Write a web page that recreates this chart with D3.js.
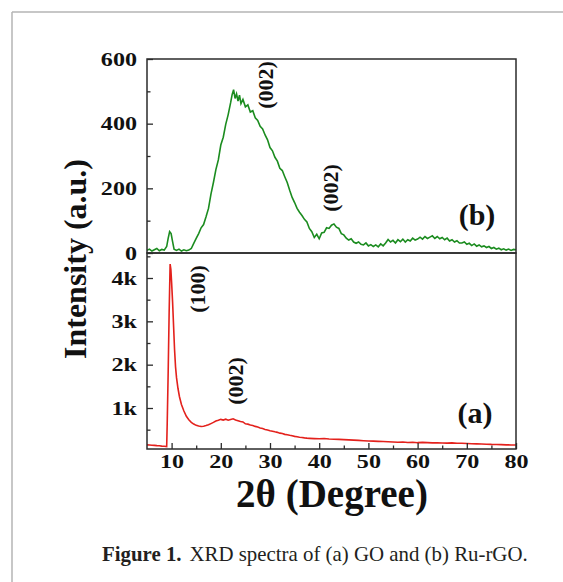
<!DOCTYPE html>
<html><head><meta charset="utf-8">
<script src="https://cdn.jsdelivr.net/npm/d3@7"></script>
<style>html,body{margin:0;padding:0;background:#fff;}</style>
</head><body>
<svg id="chart" width="563" height="582"></svg>
<script>
// ---- data ----
// (b) Ru-rGO : [2theta, intensity]
const ruRGO = [
[5,8],[5.5,12],[6,6],[6.5,10],[7,14],[7.5,7],[8,11],[8.5,9],[9,20],[9.3,45],[9.6,66],[9.9,60],[10.2,35],[10.5,12],
[11,8],[11.5,12],[12,6],[12.5,10],[13,7],[13.5,9],[14,14],[14.5,30],[15,45],[15.5,60],[16,78],[16.5,88],[17,112],
[17.5,138],[18,182],[18.5,218],[19,258],[19.5,288],[20,334],[20.5,358],[21,398],[21.5,428],[22,465],[22.3,490],[22.6,505],
[22.9,478],[23.2,492],[23.5,470],[23.8,488],[24.1,462],[24.5,475],[25,452],[25.5,458],[26,436],[26.5,440],[27,418],[27.5,410],
[28,392],[28.5,384],[29,365],[29.5,350],[30,326],[30.5,316],[31,296],[31.5,284],[32,262],[32.5,255],[33,236],[33.5,218],
[34,194],[34.5,172],[35,156],[35.5,138],[36,126],[36.5,116],[37,104],[37.5,96],[38,76],[38.5,66],[39,48],[39.5,58],
[40,44],[40.5,62],[41,64],[41.5,78],[42,76],[42.5,86],[43,90],[43.5,80],[44,76],[44.5,60],[45,56],[45.5,46],[46,40],
[46.5,44],[47,34],[47.5,30],[48,34],[48.5,27],[49,25],[49.5,31],[50,22],[50.5,26],[51,20],[51.5,25],[52,19],[52.5,28],
[53,22],[53.5,31],[54,42],[54.5,34],[55,39],[55.5,31],[56,41],[56.5,35],[57,43],[57.5,34],[58,41],[58.5,37],[59,46],
[59.5,40],[60,43],[60.5,49],[61,43],[61.5,51],[62,45],[62.5,49],[63,53],[63.5,45],[64,51],[64.5,44],[65,48],[65.5,41],
[66,46],[66.5,37],[67,41],[67.5,34],[68,38],[68.5,31],[69,31],[69.5,34],[70,27],[70.5,30],[71,23],[71.5,28],[72,21],
[72.5,25],[73,19],[73.5,22],[74,17],[74.5,20],[75,14],[75.5,17],[76,12],[76.5,15],[77,10],[77.5,13],[78,9],[78.5,12],
[79,8],[79.5,11],[80,10]
];
// (a) GO : [2theta, intensity]
const gO = [
[5,150],[5.5,146],[6,140],[6.5,138],[7,131],[7.5,128],[8,121],[8.5,116],[9,110],[9.1,600],[9.3,1800],[9.5,3200],
[9.7,4320],[9.85,4200],[10,3900],[10.2,3450],[10.4,2900],[10.6,2350],[10.8,1950],[11,1700],[11.3,1450],[11.6,1260],
[12,1080],[12.5,930],[13,810],[13.5,730],[14,670],[14.5,630],[15,600],[15.5,585],[16,575],[16.5,580],[17,595],[17.5,612],
[18,640],[18.5,668],[19,700],[19.5,718],[20,738],[20.5,722],[21,742],[21.5,718],[22,736],[22.5,752],[23,722],[23.5,708],
[24,690],[24.5,678],[25,635],[25.5,628],[26,608],[26.5,598],[27,576],[27.5,560],[28,540],[28.5,526],[29,506],[29.5,494],
[30,476],[30.5,464],[31,450],[31.5,438],[32,420],[32.5,410],[33,392],[33.5,384],[34,370],[34.5,358],[35,346],[35.5,338],
[36,326],[36.5,320],[37,310],[37.5,304],[38,300],[39,294],[40,290],[41,296],[42,284],[43,280],[44,276],[45,270],[46,264],
[47,258],[48,254],[49,246],[50,240],[51,236],[52,230],[53,226],[54,220],[55,214],[56,210],[57,216],[58,205],[59,209],
[60,200],[61,206],[62,200],[63,195],[64,199],[65,194],[66,190],[67,196],[68,188],[69,185],[70,180],[71,176],[72,172],
[73,168],[74,165],[75,160],[76,158],[77,155],[78,150],[79,148],[80,145]
];
const xTicks = [10,20,30,40,50,60,70,80];
const xMinorTicks = [15,25,35,45,55,65,75];
const topTicks = [0,200,400,600];
const topMinorTicks = [100,300,500];
const botTicks = [1000,2000,3000,4000];
const botMinorTicks = [500,1500,2500,3500,4500];
const annotations = [
  {text:"(002)", x:265, y:85},
  {text:"(002)", x:330, y:188},
  {text:"(100)", x:197, y:289},
  {text:"(002)", x:235, y:381}
];

// ---- layout ----
const svg = d3.select("#chart");
const L = 147, R = 516, T = 59, M = 253, B = 449;
const x = d3.scaleLinear().domain([5,80]).range([L,R]);
const yTop = d3.scaleLinear().domain([0,600]).range([M,T]);
const yBot = d3.scaleLinear().domain([54,4577]).range([B,M]);

// page frame
svg.append("line").attr("x1",12).attr("y1",12).attr("x2",563).attr("y2",12).attr("stroke","#b4b4b4").attr("stroke-width",1.5);
svg.append("line").attr("x1",12).attr("y1",12).attr("x2",12).attr("y2",582).attr("stroke","#b4b4b4").attr("stroke-width",1.5);

const defs = svg.append("defs");
defs.append("clipPath").attr("id","cTop").append("rect").attr("x",L).attr("y",T).attr("width",R-L).attr("height",M-T);
defs.append("clipPath").attr("id","cBot").append("rect").attr("x",L).attr("y",M).attr("width",R-L).attr("height",B-M);

const lineTop = d3.line().x(d=>x(d[0])).y(d=>yTop(d[1]));
const lineBot = d3.line().x(d=>x(d[0])).y(d=>yBot(d[1]));
svg.append("path").datum(ruRGO).attr("d",lineTop).attr("fill","none").attr("stroke","#1b8c1f").attr("stroke-width",1.6).attr("clip-path","url(#cTop)");
svg.append("path").datum(gO).attr("d",lineBot).attr("fill","none").attr("stroke","#e3211c").attr("stroke-width",1.6).attr("clip-path","url(#cBot)");

const frameColor = "#2b2b2b";
const serif = "'Liberation Serif','Times New Roman',serif";
function styleTicks(g){
  g.selectAll(".domain").remove();
  g.selectAll("line").attr("stroke",frameColor).attr("stroke-width",1.3);
  g.selectAll("text").attr("font-family",serif)
    .attr("font-weight","bold").attr("font-size",19).attr("fill","#111");
}
function stretch(g){
  g.selectAll("text").each(function(){
    const t = d3.select(this);
    const tx = +t.attr("x") || 0;
    t.attr("transform",`translate(${tx},0) scale(1.27,1) translate(${-tx},0)`);
  });
}
// x axis (bottom)
const gx = svg.append("g").attr("transform",`translate(0,${B})`)
  .call(d3.axisBottom(x).tickValues(xTicks).tickSize(-6).tickPadding(6).tickFormat(d3.format("d")));
styleTicks(gx); stretch(gx);
const gxm = svg.append("g").attr("transform",`translate(0,${B})`)
  .call(d3.axisBottom(x).tickValues(xMinorTicks).tickSize(-3.5).tickFormat(""));
styleTicks(gxm);
// y axes
const gyt = svg.append("g").attr("transform",`translate(${L},0)`)
  .call(d3.axisLeft(yTop).tickValues(topTicks).tickSize(-6).tickPadding(10).tickFormat(d3.format("d")));
styleTicks(gyt); stretch(gyt);
const gytm = svg.append("g").attr("transform",`translate(${L},0)`)
  .call(d3.axisLeft(yTop).tickValues(topMinorTicks).tickSize(-3.5).tickFormat(""));
styleTicks(gytm);
const gyb = svg.append("g").attr("transform",`translate(${L},0)`)
  .call(d3.axisLeft(yBot).tickValues(botTicks).tickSize(-6).tickPadding(10).tickFormat(d=>(d/1000)+"k"));
styleTicks(gyb); stretch(gyb);
const gybm = svg.append("g").attr("transform",`translate(${L},0)`)
  .call(d3.axisLeft(yBot).tickValues(botMinorTicks).tickSize(-3.5).tickFormat(""));
styleTicks(gybm);

// panel frames
svg.append("rect").attr("x",L).attr("y",T).attr("width",R-L).attr("height",M-T).attr("fill","none").attr("stroke",frameColor).attr("stroke-width",1.5);
svg.append("rect").attr("x",L).attr("y",M).attr("width",R-L).attr("height",B-M).attr("fill","none").attr("stroke",frameColor).attr("stroke-width",1.5);

// annotations
annotations.forEach(a=>{
  svg.append("text").text(a.text)
    .attr("transform",`translate(${a.x},${a.y}) rotate(-90)`)
    .attr("text-anchor","middle").attr("dominant-baseline","central")
    .attr("font-family",serif).attr("font-weight","bold").attr("font-size",22).attr("fill","#111");
});
svg.append("text").text("(b)").attr("x",477).attr("y",225).attr("text-anchor","middle")
  .attr("font-family",serif).attr("font-weight","bold").attr("font-size",30).attr("fill","#111");
svg.append("text").text("(a)").attr("x",475).attr("y",423).attr("text-anchor","middle")
  .attr("font-family",serif).attr("font-weight","bold").attr("font-size",30).attr("fill","#111");

// axis titles
svg.append("text").text("Intensity (a.u.)")
  .attr("transform","translate(75,259) rotate(-90)")
  .attr("text-anchor","middle").attr("dominant-baseline","central")
  .attr("font-family",serif).attr("font-weight","bold").attr("font-size",32).attr("fill","#111");
svg.append("text").text("2θ (Degree)").attr("x",332).attr("y",507).attr("text-anchor","middle")
  .attr("font-family",serif).attr("font-weight","bold").attr("font-size",39).attr("fill","#111");

// caption
const cap = svg.append("text").attr("x",102).attr("y",561)
  .attr("font-family",serif).attr("font-size",21).attr("fill","#231f20");
cap.append("tspan").attr("font-weight","bold").text("Figure 1.");
cap.append("tspan").attr("dx",8).text("XRD spectra of (a) GO and (b) Ru-rGO.");
const w = cap.node().getComputedTextLength();
const target = 418;
cap.attr("transform",`translate(102,0) scale(${target/w},1) translate(-102,0)`);
</script>
</body></html>
